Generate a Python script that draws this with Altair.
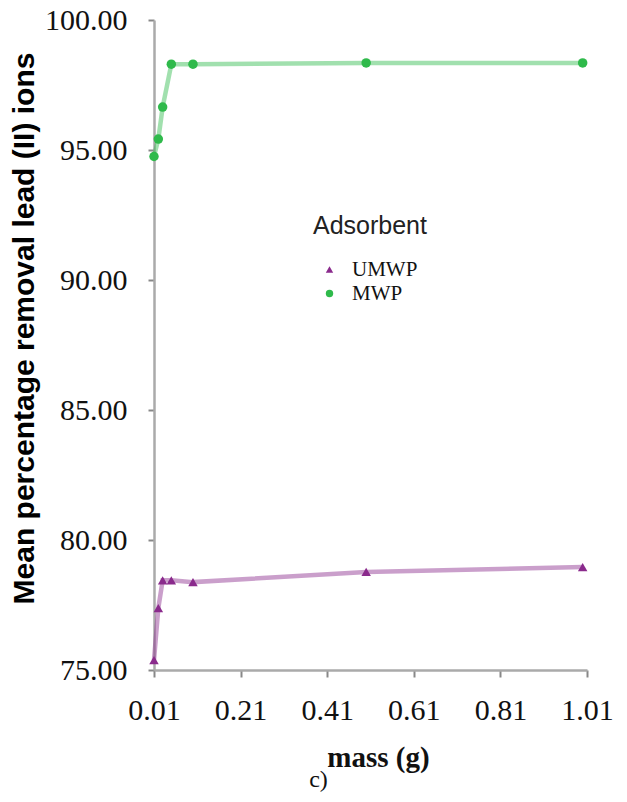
import altair as alt
import pandas as pd

mass = [0.01, 0.02, 0.03, 0.05, 0.1, 0.5, 1.0]
umwp = [75.38, 77.38, 78.45, 78.45, 78.38, 78.77, 78.96]
mwp = [94.75, 95.42, 96.65, 98.3, 98.3, 98.35, 98.35]
series = ["UMWP", "MWP"]
colors = ["#8a2a8c", "#2fba4b"]
x_ticks = [0.01, 0.21, 0.41, 0.61, 0.81, 1.01]
y_ticks = [75, 80, 85, 90, 95, 100]

rows = []
for m, u, w in zip(mass, umwp, mwp):
    rows.append({"mass": m, "removal": u, "Adsorbent": "UMWP"})
    rows.append({"mass": m, "removal": w, "Adsorbent": "MWP"})
df = pd.DataFrame(rows)

x = alt.X(
    "mass:Q",
    scale=alt.Scale(domain=[0.01, 1.01], nice=False, zero=False),
    axis=alt.Axis(
        values=x_ticks, format=".2f", grid=False,
        title="mass (g)", titleFont="Liberation Serif", titleFontSize=29,
        titleFontWeight="bold", titleColor="#111",
        titleX=224, titleY=96, titleBaseline="alphabetic", titleAnchor="middle",
        labelFont="Liberation Serif", labelFontSize=30, labelColor="#111",
        labelPadding=18, tickSize=7, tickWidth=2, tickColor="#888",
        domainColor="#aaaaaa", domainWidth=2.5, labelFlush=False,
    ),
)
y = alt.Y(
    "removal:Q",
    scale=alt.Scale(domain=[75, 100], nice=False, zero=False),
    axis=alt.Axis(
        values=y_ticks, format=".2f", grid=False,
        title="Mean percentage removal  lead (II) ions",
        titleFont="Liberation Sans", titleFontSize=30, titleFontWeight="bold",
        titleColor="#000", titleAngle=270, titleX=-121, titleY=308,
        titleBaseline="alphabetic", titleAlign="center",
        labelFont="Liberation Serif", labelFontSize=30, labelColor="#111",
        labelPadding=21, tickSize=6, tickWidth=2, tickColor="#888",
        domainColor="#aaaaaa", domainWidth=2.5,
    ),
)
legend = alt.Legend(
    orient="none", legendX=159, legendY=194,
    title="Adsorbent", titleFont="Liberation Sans", titleFontSize=25,
    titleFontWeight="normal", titleColor="#222", titlePadding=20,
    labelFont="Liberation Serif", labelFontSize=21, labelColor="#111",
    labelOffset=12, symbolSize=55, symbolOffset=6, rowPadding=2,
)
color = alt.Color("Adsorbent:N", scale=alt.Scale(domain=series, range=colors), legend=legend)
shape = alt.Shape(
    "Adsorbent:N",
    scale=alt.Scale(domain=series, range=["triangle-up", "circle"]),
    legend=legend,
)

base = alt.Chart(df)
line_layers = [
    base.transform_filter(alt.datum.Adsorbent == s)
    .mark_line(strokeWidth=4.5, opacity=0.45, color=c)
    .encode(x=x, y=y)
    for s, c in zip(series, colors)
]
points = base.mark_point(filled=True, size=90, opacity=1).encode(
    x=x, y=y, color=color, shape=shape,
)

chart = alt.layer(*line_layers, points).properties(
    width=433, height=650,
    autosize=alt.AutoSizeParams(type="none"),
    padding={"left": 154, "top": 20, "right": 40, "bottom": 132},
    title=alt.TitleParams(
        text="c)", orient="bottom", anchor="middle", dx=-52, dy=-4, offset=0,
        font="Liberation Serif", fontSize=24, fontWeight="normal", color="#111",
    ),
).configure_view(stroke=None)

chart.save("out.html", embed_options={"renderer": "svg", "actions": False})
